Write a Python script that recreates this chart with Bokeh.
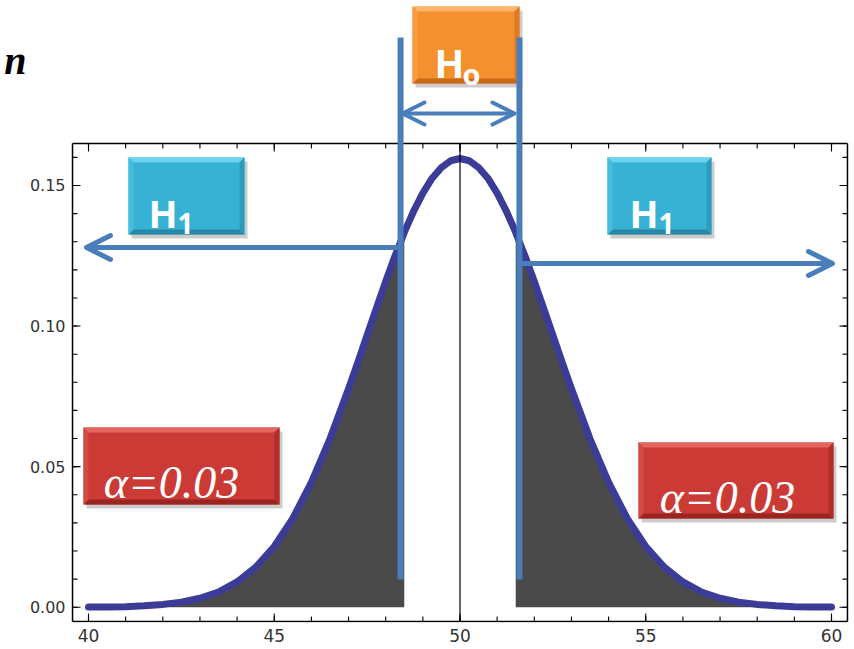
import numpy as np
from bokeh.plotting import figure
from bokeh.models import (Range1d, FixedTicker, Arrow, OpenHead, Label, LinearAxis,
                          BoxAnnotation, PolyAnnotation, NumeralTickFormatter,
                          CustomJSTickFormatter)
from bokeh.embed import file_html
from bokeh.resources import INLINE

# ---------------- data ----------------
x_vals = [40, 40.5, 41, 41.5, 42, 42.5, 43, 43.5, 44, 44.5, 45, 45.5, 46, 46.5, 47,
          47.25, 47.5, 47.75, 48, 48.25, 48.5, 48.75, 49, 49.25, 49.5, 49.75, 50,
          50.25, 50.5, 50.75, 51, 51.25, 51.5, 51.75, 52, 52.25, 52.5, 52.75, 53,
          53.5, 54, 54.5, 55, 55.5, 56, 56.5, 57, 57.5, 58, 58.5, 59, 59.5, 60]
density = [0.0001, 0.0001, 0.0002, 0.0005, 0.0010, 0.0018, 0.0032, 0.0054, 0.0090,
           0.0142, 0.0216, 0.0316, 0.0444, 0.0599, 0.0777,
           0.0871, 0.0968, 0.1064, 0.1159, 0.1249, 0.1333, 0.1408, 0.1473, 0.1526,
           0.1564, 0.1588, 0.1596,
           0.1588, 0.1564, 0.1526, 0.1473, 0.1408, 0.1333, 0.1249, 0.1159, 0.1064,
           0.0968, 0.0871, 0.0777,
           0.0599, 0.0444, 0.0316, 0.0216, 0.0142, 0.0090, 0.0054, 0.0032, 0.0018,
           0.0010, 0.0005, 0.0002, 0.0001, 0.0001]
lower_crit = 48.5      # left rejection boundary (shaded tail)
upper_crit = 51.5      # right rejection boundary
accept_lo = 48.4       # blue H0 limit lines
accept_hi = 51.6
mean_val = 50
box_x = [39.57, 60.43]     # plot-box limits (x)
box_y = [-0.0051, 0.1649]  # plot-box limits (y)
x_ticks = [40, 45, 50, 55, 60]
x_minor = list(range(40, 61))
y_ticks = [0.00, 0.05, 0.10, 0.15]
y_minor = [0.00, 0.01, 0.02, 0.03, 0.04, 0.05, 0.06, 0.07, 0.08, 0.09, 0.10,
           0.11, 0.12, 0.13, 0.14, 0.15, 0.16]
alpha_text = "α=0.03"
corner_text = "n"

# ---------------- figure ----------------
PXX = 37.15          # px per x unit
PXY = 0.0003557      # y units per px

def xd(px):
    return 39.5693 + (px - 72) / PXX

def yd(py):
    return (606.7 - py) * PXY

p = figure(width=854, height=649,
           x_range=Range1d(xd(70), xd(854)), y_range=Range1d(yd(622), yd(0)),
           output_backend="svg", toolbar_location=None,
           min_border_left=70, min_border_right=0, min_border_top=0, min_border_bottom=27)
p.background_fill_color = "white"
p.border_fill_color = "white"
p.grid.visible = False
p.outline_line_color = None

def bare(ax):
    ax.axis_line_color = None
    ax.major_tick_line_color = None
    ax.minor_tick_line_color = None
    ax.major_tick_out = 0
    ax.major_tick_in = 0
    ax.minor_tick_out = 0
    ax.minor_tick_in = 0
    ax.axis_label_standoff = 0

for ax in (p.xaxis[0], p.yaxis[0]):
    bare(ax)
    ax.major_label_text_font = "DejaVu Sans"
    ax.major_label_text_color = "#333333"
p.xaxis.major_label_text_font_size = "17px"
p.yaxis.major_label_text_font_size = "16px"
p.xaxis.ticker = FixedTicker(ticks=x_ticks)
p.yaxis.ticker = FixedTicker(ticks=y_ticks)
p.yaxis.formatter = NumeralTickFormatter(format="0.00")
p.xaxis.major_label_standoff = 6
p.yaxis.major_label_standoff = 5

# cropped formula fragment at the top-left corner (outer left axis, text only)
corner_ax = LinearAxis(ticker=FixedTicker(ticks=[yd(60)]),
                       formatter=CustomJSTickFormatter(code="return '%s'" % corner_text))
bare(corner_ax)
corner_ax.major_label_standoff = 0
corner_ax.major_label_text_font = "Liberation Serif"
corner_ax.major_label_text_font_style = "bold italic"
corner_ax.major_label_text_font_size = "40px"
corner_ax.major_label_text_color = "black"
p.add_layout(corner_ax, "left")

# ---------------- shaded tails + curve ----------------
xa = np.array(x_vals)
ya = np.array(density)
lm = xa <= lower_crit
rm = xa >= upper_crit
p.varea(x=xa[lm], y1=np.zeros(lm.sum()), y2=ya[lm], fill_color="#4a4a4a")
p.varea(x=xa[rm], y1=np.zeros(rm.sum()), y2=ya[rm], fill_color="#4a4a4a")
p.line(xa, ya, line_color="#3b3b98", line_width=7, line_join="round", line_cap="round")

# centre line
p.segment(x0=[mean_val], y0=[box_y[0]], x1=[mean_val], y1=[box_y[1]],
          line_color="black", line_width=1.2)

# ---------------- plot box with inward ticks ----------------
bx0, bx1 = box_x
by0, by1 = box_y
p.segment(x0=[bx0, bx0, bx0, bx1], y0=[by0, by1, by0, by0],
          x1=[bx1, bx1, bx0, bx1], y1=[by0, by1, by1, by1],
          line_color="black", line_width=1.5)
MAJ, MIN = 8, 5
xm = np.array(x_minor, dtype=float)
xM = np.array(x_ticks, dtype=float)
ym = np.array(y_minor)
yM = np.array(y_ticks)
for xs, L in ((xm, MIN), (xM, MAJ)):
    n = len(xs)
    p.segment(x0=xs, y0=np.full(n, by0), x1=xs, y1=np.full(n, by0 + L * PXY),
              line_color="black", line_width=1.1)
    p.segment(x0=xs, y0=np.full(n, by1), x1=xs, y1=np.full(n, by1 - L * PXY),
              line_color="black", line_width=1.1)
for ys, L in ((ym, MIN), (yM, MAJ)):
    n = len(ys)
    p.segment(x0=np.full(n, bx0), y0=ys, x1=np.full(n, bx0 + L / PXX), y1=ys,
              line_color="black", line_width=1.1)
    p.segment(x0=np.full(n, bx1), y0=ys, x1=np.full(n, bx1 - L / PXX), y1=ys,
              line_color="black", line_width=1.1)

BLUE = "#4a7ebb"

# ---------------- bevel boxes ----------------
def bevel_box(l, r, t, b, base, light, dark, side, lside):
    bx, by = 5 / PXX, 5 * PXY
    p.add_layout(BoxAnnotation(left=l + 3 / PXX, right=r + 3 / PXX, top=t - 4 * PXY, bottom=b - 4 * PXY,
                               fill_color="black", fill_alpha=0.2, line_color=None))
    p.add_layout(BoxAnnotation(left=l, right=r, top=t, bottom=b,
                               fill_color=base, fill_alpha=1, line_color=None))
    p.add_layout(PolyAnnotation(xs=[l, r, r - bx, l + bx], ys=[t, t, t - by, t - by],
                                fill_color=light, fill_alpha=1, line_color=None))
    p.add_layout(PolyAnnotation(xs=[l, r, r - bx, l + bx], ys=[b, b, b + by, b + by],
                                fill_color=dark, fill_alpha=1, line_color=None))
    p.add_layout(PolyAnnotation(xs=[r, r, r - bx, r - bx], ys=[t, b, b + by, t - by],
                                fill_color=side, fill_alpha=1, line_color=None))
    p.add_layout(PolyAnnotation(xs=[l, l, l + bx, l + bx], ys=[t, b, b + by, t - by],
                                fill_color=lside, fill_alpha=1, line_color=None))

TEAL = ("#37b2d4", "#6ad3ee", "#2a88a6", "#2c9cbc", "#45bddc")
ORANGE = ("#f5902e", "#fbb46a", "#c9691a", "#de7b22", "#f89d45")
RED = ("#cc3a35", "#e2655f", "#9a2420", "#b02e2a", "#d24a45")
# H1 boxes
bevel_box(xd(128), xd(244), yd(157), yd(234), *TEAL)
bevel_box(xd(607), xd(711), yd(157), yd(234), *TEAL)
# H0 box
bevel_box(xd(412), xd(519), yd(6), yd(83), *ORANGE)
# alpha boxes
bevel_box(xd(83), xd(279), yd(427), yd(504), *RED)
bevel_box(xd(638), xd(833), yd(442), yd(518), *RED)

# ---------------- lines / arrows ----------------
for xv in (accept_lo, accept_hi):
    p.add_layout(Arrow(end=None, x_start=xv, y_start=yd(579), x_end=xv, y_end=yd(37),
                       line_color=BLUE, line_width=6))

def head(sz, w):
    return OpenHead(size=sz, line_color=BLUE, line_width=w, line_join="round", line_cap="round")

p.add_layout(Arrow(start=head(22, 4), end=head(22, 4), x_start=xd(402), y_start=yd(113),
                   x_end=xd(514), y_end=yd(113), line_color=BLUE, line_width=4))
p.add_layout(Arrow(end=head(24, 5), x_start=accept_lo, y_start=yd(247), x_end=xd(86), y_end=yd(247),
                   line_color=BLUE, line_width=5))
p.add_layout(Arrow(end=head(24, 5), x_start=accept_hi, y_start=yd(263), x_end=xd(832), y_end=yd(263),
                   line_color=BLUE, line_width=5))

# ---------------- texts ----------------
def lab(x, y, t, size, font="Open Sans", style="bold", color="white", align="left"):
    p.add_layout(Label(x=x, y=y, text=t, text_font=font, text_font_size=size,
                       text_font_style=style, text_color=color, text_align=align,
                       text_baseline="alphabetic"))

lab(xd(148), yd(212), "H", "38px")
lab(xd(177), yd(223), "1", "28px")
lab(xd(629), yd(212), "H", "38px")
lab(xd(658), yd(223), "1", "28px")
lab(xd(434), yd(62), "H", "39px")
lab(xd(462), yd(73), "o", "29px")
lab(xd(171), yd(482), alpha_text, "46px", font="Liberation Serif", style="italic", align="center")
lab(xd(727), yd(497), alpha_text, "46px", font="Liberation Serif", style="italic", align="center")

open("out.html", "w").write(file_html(p, INLINE))
